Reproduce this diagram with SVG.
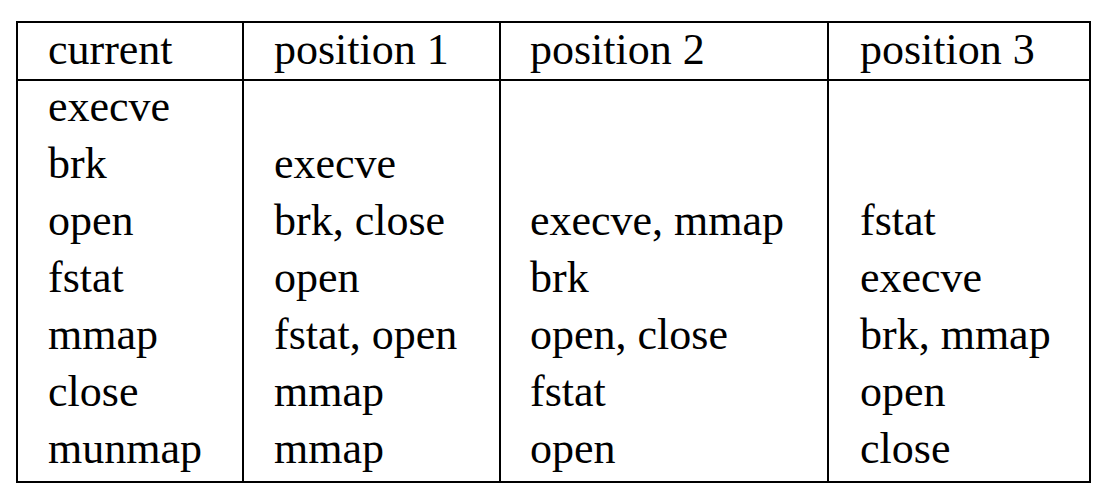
<svg xmlns="http://www.w3.org/2000/svg" width="1118" height="499" viewBox="0 0 1118 499">
<style>
text{font-family:"Liberation Serif","Times New Roman",serif;font-size:44px;fill:#000}
line,rect{stroke:#000;stroke-width:2;fill:none}
</style>
<rect fill="#fff" width="1118" height="499" style="fill:#fff;stroke:none"/>
<g id="grid">
<rect x="17" y="22" width="1073" height="460"/>
<line x1="17" y1="80" x2="1090" y2="80"/>
<line x1="243" y1="22" x2="243" y2="482"/>
<line x1="500" y1="22" x2="500" y2="482"/>
<line x1="828" y1="22" x2="828" y2="482"/>
</g>
<g id="col1">
<text x="48" y="64">current</text>
<text x="48" y="121">execve</text>
<text x="48" y="178">brk</text>
<text x="48" y="235">open</text>
<text x="48" y="292">fstat</text>
<text x="48" y="349">mmap</text>
<text x="48" y="406">close</text>
<text x="48" y="463">munmap</text>
</g>
<g id="col2">
<text x="274" y="64">position 1</text>
<text x="274" y="178">execve</text>
<text x="274" y="235">brk, close</text>
<text x="274" y="292">open</text>
<text x="274" y="349">fstat, open</text>
<text x="274" y="406">mmap</text>
<text x="274" y="463">mmap</text>
</g>
<g id="col3">
<text x="530" y="64">position 2</text>
<text x="530" y="235">execve, mmap</text>
<text x="530" y="292">brk</text>
<text x="530" y="349">open, close</text>
<text x="530" y="406">fstat</text>
<text x="530" y="463">open</text>
</g>
<g id="col4">
<text x="860" y="64">position 3</text>
<text x="860" y="235">fstat</text>
<text x="860" y="292">execve</text>
<text x="860" y="349">brk, mmap</text>
<text x="860" y="406">open</text>
<text x="860" y="463">close</text>
</g>
</svg>
